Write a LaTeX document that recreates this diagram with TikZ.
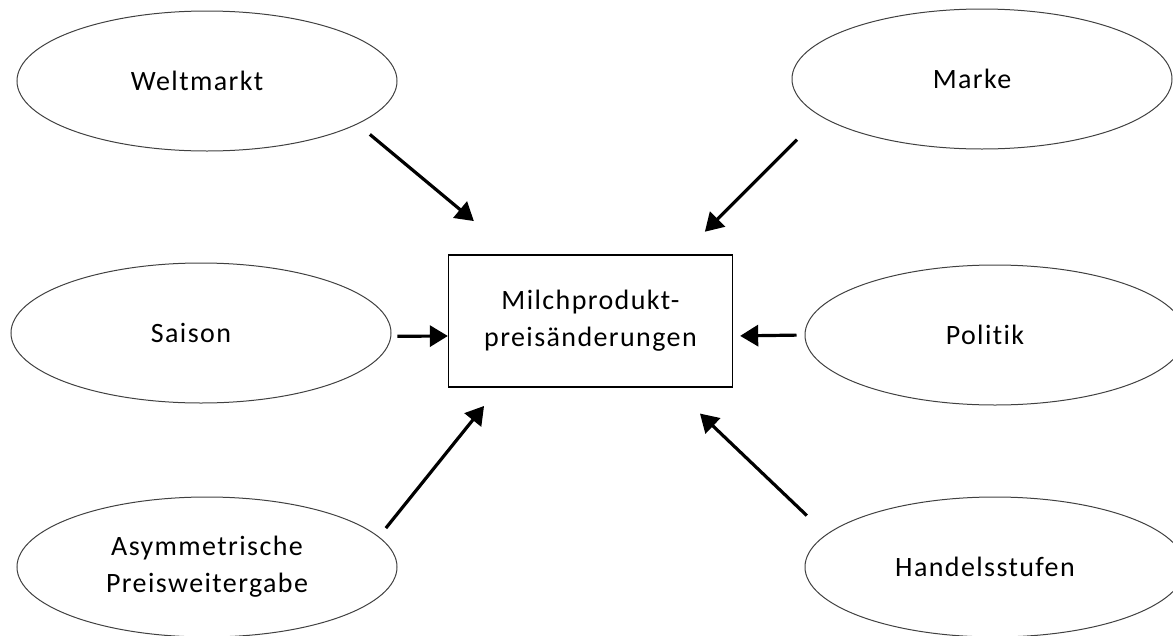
\documentclass[tikz,border=0pt]{standalone}
\usepackage{fontspec}
\setmainfont{Carlito}[LetterSpace=5, Ligatures={NoCommon}]
\usetikzlibrary{shapes.geometric,arrows.meta}

\newcommand{\lefttext}[1]{#1\hspace*{20pt}}

\begin{document}
\begin{tikzpicture}[x=1pt,y=-1pt,
  factor/.style={ellipse, draw=black!75, line width=1pt, minimum width=380pt,
    minimum height=140pt, inner sep=0pt, align=center,
    font=\fontsize{28}{37}\selectfont},
  target/.style={rectangle, draw, line width=1.3pt, minimum width=284pt,
    minimum height=132pt, align=center, font=\fontsize{28}{37}\selectfont},
  push/.style={-{Triangle[length=18pt,width=21pt]}, line width=3.2pt}]
\useasboundingbox (0,0) rectangle (1173,635);
\clip (0,0) rectangle (1173,635);

% middle
\node[target] (prod) at (590.5,321) {Milchprodukt-\\preisänderungen};

% left side
\node[factor] (welt) at (207,81) {\lefttext{Weltmarkt}};
\node[factor] (saison) at (201,333) {\lefttext{Saison}};
\node[factor] (asym) at (207,567) {Asymmetrische\\Preisweitergabe};

% right side
\node[factor] (marke) at (982,79) {\lefttext{Marke}};
\node[factor] (politik) at (995,335) {\lefttext{Politik}};
\node[factor] (handel) at (995,567) {\lefttext{Handelsstufen}};

\draw[push, shorten <=16pt, shorten >=52pt] (welt.-16) -- (prod.139);
\draw[push, shorten <=6pt] (saison.-1) -- (prod.186);
\draw[push, shorten <=11pt, shorten >=23.5pt] (asym.10) -- (prod.216.7);

\draw[push, shorten <=33pt, shorten >=32pt] (marke.-167.6) -- (prod.36.3);
\draw[push, shorten <=8pt, shorten >=7pt] (politik.180) -- (prod.-6);
\draw[push, shorten <=27pt, shorten >=37.5pt] (handel.169.5) -- (prod.-39.4);

\end{tikzpicture}
\end{document}
